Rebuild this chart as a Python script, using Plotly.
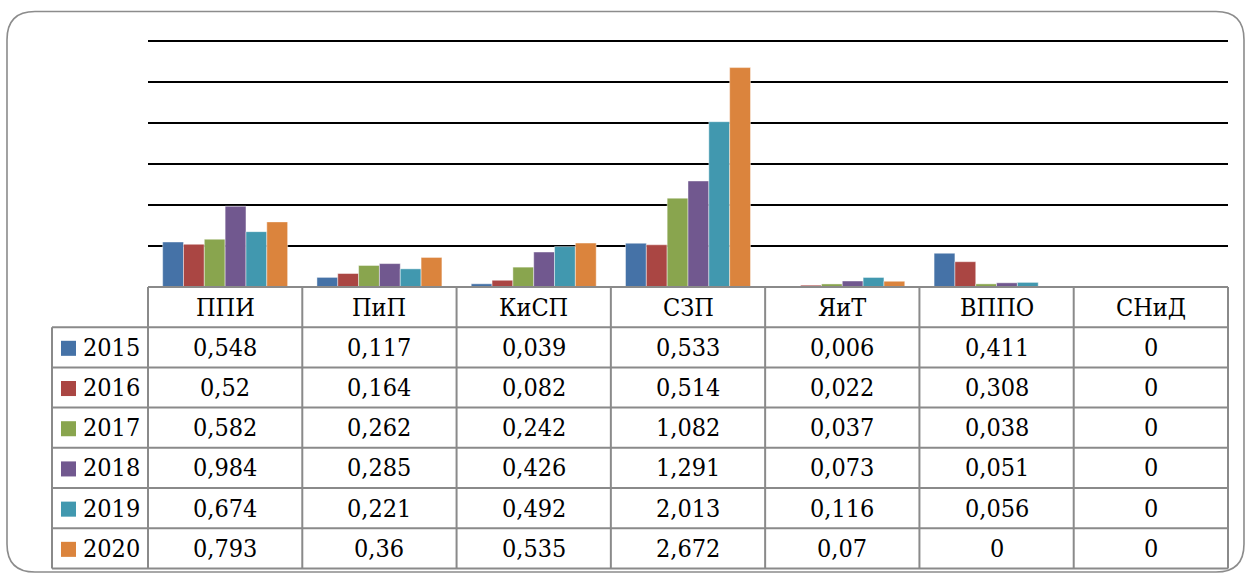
import plotly.graph_objects as go

categories = ["ППИ", "ПиП", "КиСП", "СЗП", "ЯиТ", "ВППО", "СНиД"]
years = ["2015", "2016", "2017", "2018", "2019", "2020"]
v2015 = [0.548, 0.117, 0.039, 0.533, 0.006, 0.411, 0]
v2016 = [0.52, 0.164, 0.082, 0.514, 0.022, 0.308, 0]
v2017 = [0.582, 0.262, 0.242, 1.082, 0.037, 0.038, 0]
v2018 = [0.984, 0.285, 0.426, 1.291, 0.073, 0.051, 0]
v2019 = [0.674, 0.221, 0.492, 2.013, 0.116, 0.056, 0]
v2020 = [0.793, 0.36, 0.535, 2.672, 0.07, 0, 0]
series = [v2015, v2016, v2017, v2018, v2019, v2020]
colors = ["#4572A7", "#AA4643", "#89A54E", "#71588F", "#4198AF", "#DB843D"]
grid_vals = [0.5, 1.0, 1.5, 2.0, 2.5, 3.0]
y_max = 3.02

W, H = 1248, 574
base_px = 286.7
top_px = 41.0
PH = (base_px - top_px) * y_max / 3.0
L, R = 148, 20
B = H - base_px
T = base_px - PH
PW = W - L - R

def xp(px):
    return (px - L) / PW

def yp(py):
    return (base_px - py) / PH

FONT = "DejaVu Serif Condensed"
FS = 25
BORDER = "#8a8a8a"

fig = go.Figure()
for name, vals, col in zip(years, series, colors):
    fig.add_trace(go.Bar(
        x=categories, y=vals, name=name,
        marker=dict(color=col, line=dict(color="rgba(255,255,255,0.55)", width=0.8)),
        showlegend=False,
    ))

shapes = []
annotations = []

row_h = 40.1
n_rows = len(years) + 1
row_edges = [base_px + row_h * k for k in range(n_rows + 1)]
lab_left = 52

def line(x0, y0, x1, y1, color=BORDER, width=2):
    shapes.append(dict(type="line", xref="paper", yref="paper",
                       x0=xp(x0), y0=yp(y0), x1=xp(x1), y1=yp(y1),
                       line=dict(color=color, width=width), layer="above"))

line(L, row_edges[0], W - R, row_edges[0])
for k in range(1, n_rows + 1):
    line(lab_left, row_edges[k], W - R, row_edges[k])
colw = PW / len(categories)
for j in range(len(categories) + 1):
    line(L + colw * j, row_edges[0], L + colw * j, row_edges[-1])
line(lab_left, row_edges[1], lab_left, row_edges[-1])

hc = (row_edges[0] + row_edges[1]) / 2
for c in categories:
    annotations.append(dict(x=c, xref="x", y=yp(hc), yref="paper", text=c,
                            showarrow=False, xanchor="center", yanchor="middle",
                            font=dict(family=FONT, size=FS, color="black")))

def fmt(v):
    return "{:g}".format(v).replace(".", ",")

for i, (name, vals, col) in enumerate(zip(years, series, colors)):
    rc = (row_edges[i + 1] + row_edges[i + 2]) / 2
    shapes.append(dict(type="rect", xref="paper", yref="paper",
                       x0=xp(61), x1=xp(76), y0=yp(rc - 6.5), y1=yp(rc + 8.5),
                       fillcolor=col, line=dict(width=0), layer="above"))
    annotations.append(dict(x=xp(81), xref="paper", y=yp(rc), yref="paper", text=name,
                            showarrow=False, xanchor="left", yanchor="middle",
                            font=dict(family=FONT, size=FS, color="black")))
    for c, v in zip(categories, vals):
        annotations.append(dict(x=c, xref="x", y=yp(rc), yref="paper", text=fmt(v),
                                showarrow=False, xanchor="center", yanchor="middle",
                                font=dict(family=FONT, size=FS, color="black")))

fl, ft, fr, fb, rr = 7, 12, 1244, 571, 28
def P(px, py):
    return f"{xp(px):.5f},{yp(py):.5f}"
path = (f"M {P(fl + rr, ft)} L {P(fr - rr, ft)} Q {P(fr, ft)} {P(fr, ft + rr)} "
        f"L {P(fr, fb - rr)} Q {P(fr, fb)} {P(fr - rr, fb)} "
        f"L {P(fl + rr, fb)} Q {P(fl, fb)} {P(fl, fb - rr)} "
        f"L {P(fl, ft + rr)} Q {P(fl, ft)} {P(fl + rr, ft)} Z")
shapes.append(dict(type="path", xref="paper", yref="paper", path=path,
                   line=dict(color="#8c8c8c", width=1.6), layer="above"))

fig.update_layout(
    width=W, height=H,
    margin=dict(l=L, r=R, t=T, b=B, pad=0),
    paper_bgcolor="white", plot_bgcolor="white",
    barmode="group", bargap=0.19, bargroupgap=0,
    xaxis=dict(range=[-0.5, len(categories) - 0.5], showticklabels=False,
               showgrid=False, zeroline=False, showline=False, ticks=""),
    yaxis=dict(range=[0, y_max], tickvals=grid_vals, showticklabels=False,
               showgrid=True, gridcolor="black", gridwidth=1.8,
               zeroline=False, showline=False, ticks=""),
    shapes=shapes, annotations=annotations,
)

fig.write_html("out.html", config={"displayModeBar": False},
               post_script="document.body.style.margin='0';document.body.style.overflow='hidden';")
